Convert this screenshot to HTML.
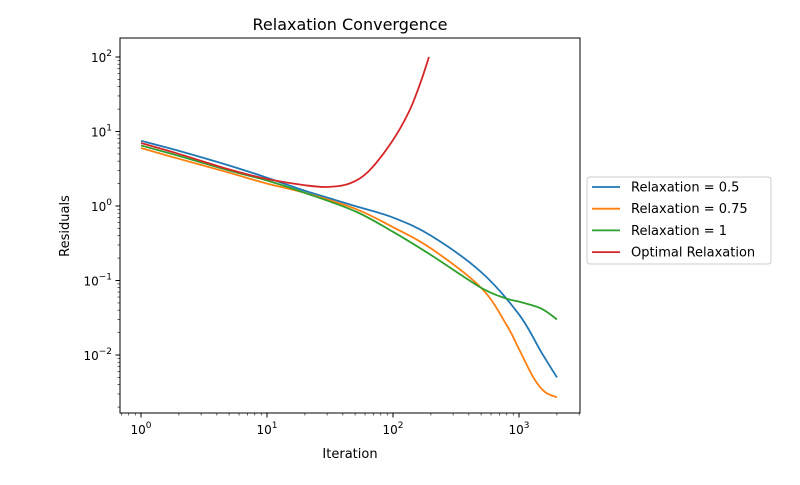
<!DOCTYPE html>
<html><head><meta charset="utf-8"><style>
body{margin:0;background:#fff;font-family:"Liberation Sans",sans-serif}
svg text{font-family:"DejaVu Sans","Liberation Sans",sans-serif}
</style></head><body>
<svg id="chart" width="800" height="480" xmlns="http://www.w3.org/2000/svg">
<rect width="800" height="480" fill="#fff"/>
<text x="350" y="30" text-anchor="middle" font-size="16">Relaxation Convergence</text>
<g id="grid"></g>
<g id="series"></g>
<rect x="120" y="38" width="460" height="375" fill="none" stroke="#000" stroke-width="1"/>
<text x="350" y="458" text-anchor="middle" font-size="13">Iteration</text>
<text x="69" y="226" text-anchor="middle" font-size="13" transform="rotate(-90 69 226)">Residuals</text>
<g>
<rect x="587" y="177" width="184" height="87" rx="3" fill="#fff" stroke="#ccc"/>
<g id="legend"></g>
</g>
</svg>
<script>
const xTicks=[0,1,2,3];
const yTicks=[-2,-1,0,1,2];
const seriesNames=["Relaxation = 0.5","Relaxation = 0.75","Relaxation = 1","Optimal Relaxation"];
const seriesColors=["#1f77b4","#ff7f0e","#2ca02c","#d62728"];
const iterBlue=[1,2,5,10,20,50,100,200,500,1000,1500,2000];
const valBlue=[7.5,5.5,3.5,2.4,1.6,1.0,0.7,0.4,0.13,0.035,0.011,0.005];
const iterOrange=[1,2,5,10,20,50,100,200,500,800,1000,1300,1600,2000];
const valOrange=[6.0,4.3,2.8,2.0,1.5,0.92,0.52,0.27,0.08,0.025,0.012,0.005,0.0032,0.0027];
const iterGreen=[1,2,5,10,20,50,100,200,500,800,1000,1500,2000];
const valGreen=[6.5,4.7,3.0,2.2,1.5,0.85,0.45,0.22,0.08,0.057,0.052,0.042,0.03];
const iterRed=[1,2,5,10,20,30,45,65,100,135,165,193];
const valRed=[7.0,5.0,3.1,2.3,1.9,1.8,2.0,3.0,7.7,19,45,100];
const xs=[iterBlue,iterOrange,iterGreen,iterRed], ys=[valBlue,valOrange,valGreen,valRed];
const X=v=>141+126*Math.log10(v);
const Y=v=>206-74.5*Math.log10(v);
const NS="http://www.w3.org/2000/svg";
const g=document.getElementById('grid');
function el(t,a,p){const e=document.createElementNS(NS,t);for(const k in a)e.setAttribute(k,a[k]);p.appendChild(e);return e;}
xTicks.forEach(d=>{
 const x=X(Math.pow(10,d));
 const t=el('line',{x1:x,x2:x,y1:413,y2:417.5,stroke:'#000'},g);
 
 
 const tx=el('text',{x:x,y:434,'text-anchor':'middle','font-size':'12'},g);
 
 
 tx.innerHTML='10<tspan dy="-6" font-size="9">'+d+'</tspan>';
});
for(let d=-1;d<=3;d++)for(let m=2;m<=9;m++){const x=X(m*Math.pow(10,d));if(x>120&&x<580)el('line',{x1:x,x2:x,y1:413,y2:415.5,stroke:'#000','stroke-width':0.6},g);}
yTicks.forEach(d=>{
 const y=Y(Math.pow(10,d));
 const t=el('line',{x1:115.5,x2:120,y1:y,y2:y,stroke:'#000'},g);
 
 
 const tx=el('text',{x:112,y:y+5,'text-anchor':'end','font-size':'12'},g);
 
 
 tx.innerHTML=(d<0?'10<tspan dy="-6" font-size="9">\u2212'+(-d)+'</tspan>':'10<tspan dy="-6" font-size="9">'+d+'</tspan>');
});
for(let d=-3;d<=2;d++)for(let m=2;m<=9;m++){const y=Y(m*Math.pow(10,d));if(y>38&&y<413)el('line',{x1:117.5,x2:120,y1:y,y2:y,stroke:'#000','stroke-width':0.6},g);}
const s=document.getElementById('series');
function smooth(pts){let d='M'+pts[0][0]+','+pts[0][1];for(let i=0;i<pts.length-1;i++){const p0=pts[i-1]||pts[i],p1=pts[i],p2=pts[i+1],p3=pts[i+2]||p2;d+=' C'+(p1[0]+(p2[0]-p0[0])/6)+','+(p1[1]+(p2[1]-p0[1])/6)+' '+(p2[0]-(p3[0]-p1[0])/6)+','+(p2[1]-(p3[1]-p1[1])/6)+' '+p2[0]+','+p2[1];}return d;}
xs.forEach((arr,i)=>{
 const pts=arr.map((v,j)=>[X(v),Y(ys[i][j])]);
 const p=el('path',{d:smooth(pts),fill:'none',stroke:seriesColors[i],'stroke-width':1.8},s);
 
 
});
const lg=document.getElementById('legend');
seriesNames.forEach((n,i)=>{
 const y=187+21.7*i;
 const l=el('line',{x1:592,x2:620,y1:y,y2:y,stroke:seriesColors[i],'stroke-width':1.8},lg);
 
 
 const t=el('text',{x:631,y:y+4.5,'font-size':'13'},lg);
 
 
 t.textContent=n;
});
</script>
</body></html>
